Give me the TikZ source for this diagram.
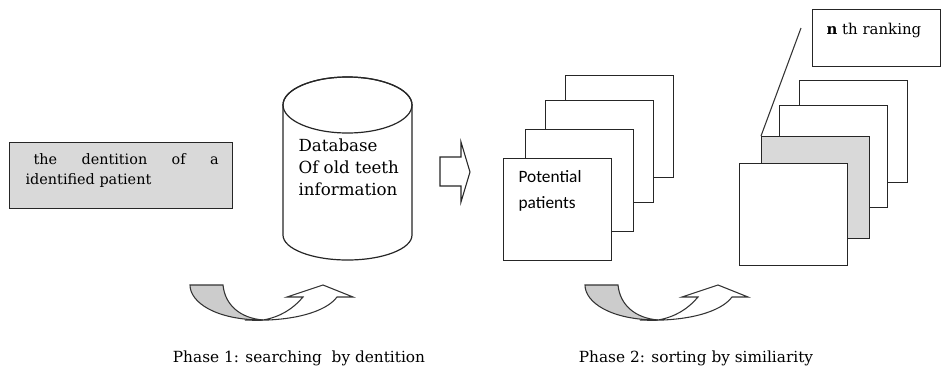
\documentclass[tikz,border=0pt]{standalone}
\usepackage{fontspec}
\setmainfont{DejaVu Serif}
\newfontfamily\calib{Carlito}
\begin{document}
\begin{tikzpicture}[x=0.75pt,y=-0.75pt,line width=0.9pt,line join=miter]
\tikzset{
  sheet/.style={draw=black!85,fill=white,anchor=north west,minimum width=81pt,minimum height=76.5pt,inner sep=0pt},
  graysheet/.style={sheet,fill=black!15},
  lbl/.style={inner sep=0pt,anchor=north west,align=left},
  phase/.style={inner sep=0pt,font=\fontsize{11.5}{13}\selectfont},
  band/.style={draw=black!80,line width=0.8pt},
}
\useasboundingbox (0,0) rectangle (943,376);
% left box
\node[draw=black!85,fill=black!15,anchor=north west,minimum width=167.25pt,minimum height=49.5pt,inner sep=0pt] (dent) at (9,142) {};
\node[lbl,font=\fontsize{10.8}{15}\selectfont] (denttxt) at (25,153) {\hspace*{6pt}\makebox[138.75pt][s]{the\hfill dentition\hfill of\hfill a}\\identified patient};
% cylinder
\coordinate (cyltl) at (283,105);
\coordinate (cylbl) at (283,235);
\coordinate (cyltr) at (412,105);
\coordinate (cylbr) at (412,235);
\draw[draw=black!85,fill=white] (cyltl) -- (cylbl) arc[start angle=180,end angle=0,x radius=64.5,y radius=25] -- (cyltr) arc[start angle=0,end angle=-180,x radius=64.5,y radius=28] -- cycle;
\draw[draw=black!85] (347.5,105) ellipse[x radius=64.5,y radius=28];
\node[lbl,font=\fontsize{12.5}{16.5}\selectfont] (dbtxt) at (298,138) {Database\\Of old teeth\\information};
% block arrow
\draw[draw=black!85,fill=white,line width=0.8pt] (440,157) -- (461,157) -- (461,142) -- (470,172) -- (461,202) -- (461,186) -- (440,186) -- cycle;
% potential stack
\node[sheet] (p4) at (565,75) {};
\node[sheet] (p3) at (545,100) {};
\node[sheet] (p2) at (525,129) {};
\node[sheet] (p1) at (503,158) {};
\node[lbl,font=\calib\fontsize{13}{19.5}\selectfont] (pottxt) at (518,170) {Potential\\patients};
% ranking stack
\node[sheet] (r4) at (799,80) {};
\node[sheet] (r3) at (779,105) {};
\node[graysheet] (r2) at (761,136) {};
\node[sheet] (r1) at (739,163) {};
\node[draw=black!85,fill=white,anchor=north west,minimum width=96pt,minimum height=42.75pt,inner sep=0pt] (rank) at (812,9) {};
\node[lbl,font=\fontsize{11.2}{13}\selectfont] (ranktxt) at (826,23) {\textbf{n} th ranking};
\coordinate (callout) at (801,28);
\draw[draw=black!80,line width=0.8pt] (r2.north west) -- (callout);
% curved arrows
\foreach \dx/\nm in {0/a,395/b}{
\begin{scope}[xshift=\dx*0.75pt]
\draw[band,fill=white] (245,320) .. controls (292,322) and (326,312) .. (337,297) -- (353,297) -- (323,285) -- (287,297) -- (303,297) .. controls (293,309) and (280,317) .. (263,320) -- cycle;
\draw[band,fill=black!20] (190,285) -- (223,285) .. controls (225,305) and (240,318) .. (263,320) .. controls (215,320) and (190,302) .. (190,285) -- cycle;
\end{scope}}
\node[phase] (ph1) at (299,358) {Phase 1: searching\ \ by dentition};
\node[phase] (ph2) at (696,358) {Phase 2: sorting by similiarity};
\end{tikzpicture}
\end{document}
